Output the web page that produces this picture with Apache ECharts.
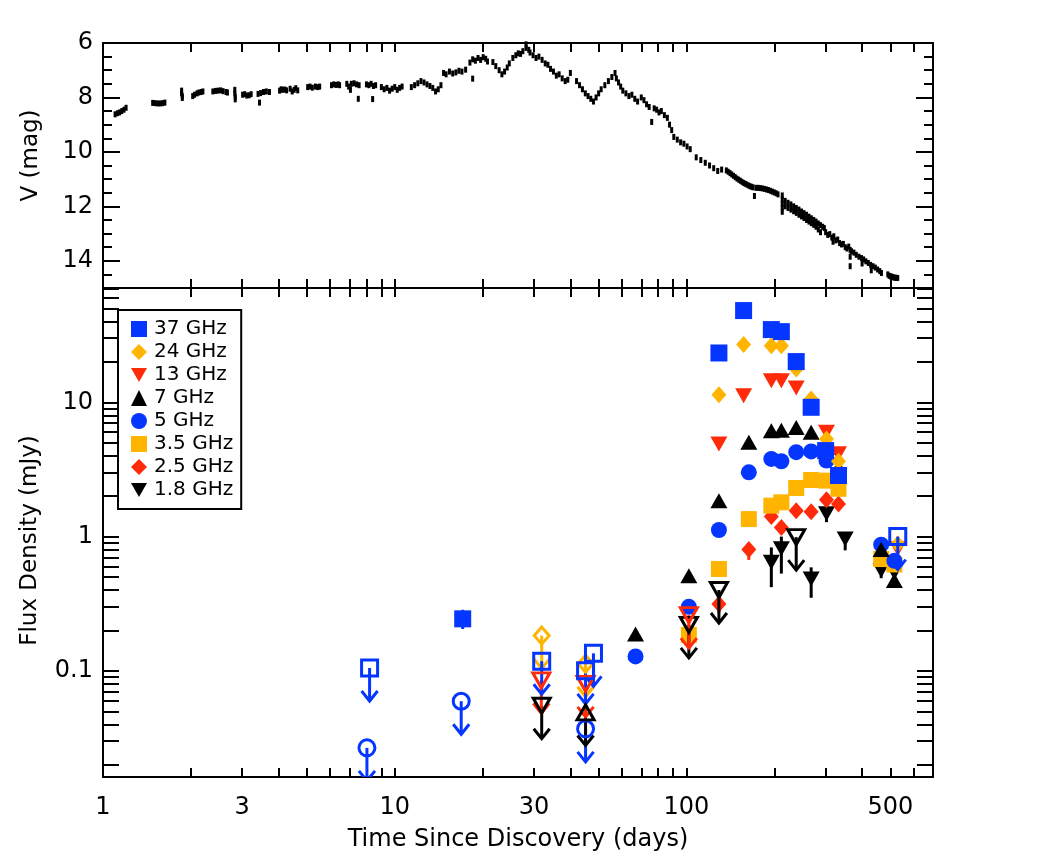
<!DOCTYPE html>
<html><head><meta charset="utf-8">
<script src="https://cdn.jsdelivr.net/npm/echarts@6/dist/echarts.min.js"></script>
<style>html,body{margin:0;padding:0;background:#fff}#c{width:1038px;height:865px}</style>
</head><body><div id="c"></div>
<script>
// ---------- tick labels ----------
const xTickVals = [1,2,3,4,5,6,7,8,9,10,20,30,40,50,60,70,80,90,100,200,300,400,500,600];
const xLabelVals = [1,3,10,30,100,500];
const yTickVals = [0.02,0.03,0.04,0.05,0.06,0.07,0.08,0.09,0.1,0.2,0.3,0.4,0.5,0.6,0.7,0.8,0.9,1,2,3,4,5,6,7,8,9,10,20,30,40,50,60,70];
const yLabelVals = [0.1,1,10];

// ---------- optical light curve (days, V mag) ----------
const lcT = [1.10,1.12,1.14,1.16,1.18,1.20,1.48,1.51,1.54,1.57,1.60,1.63,1.86,1.86,1.87,1.87,2.03,2.06,2.10,2.13,2.17,2.20,
2.38,2.43,2.48,2.53,2.58,2.64,2.67,2.83,2.83,2.84,2.84,3.01,3.06,3.11,3.17,3.22,3.44,3.40,3.47,3.55,3.63,3.72,
4.03,4.08,4.13,4.20,4.26,4.38,4.45,4.52,4.58,4.65,5.03,5.12,5.22,5.35,5.45,5.53,6.07,6.18,6.30,6.40,6.47,
6.85,6.95,7.05,7.10,7.25,7.40,7.55,7.50,8.00,8.15,8.30,8.45,8.60,8.40,9.00,9.20,9.40,9.60,9.80,10.0,10.2,10.4,10.6,
11.4,11.7,12.0,12.3,12.6,12.9,13.2,13.5,13.8,14.1,14.4,14.7,15.0,15.4,15.8,16.2,16.6,17.0,17.5,
18.1,18.5,18.9,19.3,19.7,20.1,20.5,20.8,18.5,21.7,22.2,22.8,23.3,23.8,24.3,24.7,25.4,26.0,26.5,27.0,
27.5,28.2,28.2,28.8,29.1,29.8,30.5,31.2,32.0,32.8,33.5,34.2,35.0,35.8,36.6,37.5,38.4,39.2,40.0,
42.0,43.0,44.0,45.0,46.0,47.0,48.0,49.0,50.0,51.0,52.5,54.0,55.5,56.9,57.5,58.5,59.5,
60.5,62.0,63.5,65.0,66.5,68.0,70.0,71.5,73.0,74.5,76.0,77.5,79.0,80.5,82.0,84.0,86.0,87.5,89.0,
90.5,93.0,95.5,98.0,100.5,103.0,108,112,116,120,124,128,132,
137,139,141,143,145,147,149,151,153,155,157,159,161,163,165,167,169,171,
173,176,179,182,185,188,191,194,197,200,203,206,213,213,213,213,213,
218,223,228,233,238,243,248,253,258,263,268,273,278,283,288,293,297,
218,223,228,233,238,243,248,253,258,263,268,273,278,283,288,
300,305,310,315,318,320,325,330,335,340,345,350,355,360,364,364,364,368,
375,382,390,398,400,405,412,420,428,430,436,444,452,460,466,
490,495,500,505,510,515,520,525,530];
const lcV = [8.62,8.58,8.55,8.50,8.45,8.38,8.20,8.21,8.22,8.22,8.21,8.19,7.75,7.85,7.95,8.02,7.95,7.90,7.85,7.82,7.80,7.78,
7.78,7.76,7.75,7.74,7.77,7.80,7.82,7.72,7.85,7.97,8.07,7.90,7.88,7.93,7.92,7.88,8.19,7.87,7.84,7.80,7.78,7.80,
7.75,7.70,7.72,7.71,7.74,7.68,7.78,7.72,7.66,7.74,7.62,7.60,7.64,7.60,7.62,7.60,7.55,7.52,7.54,7.52,7.55,
7.50,7.60,7.72,7.50,7.48,7.52,7.55,8.05,7.52,7.55,7.50,7.58,7.55,8.06,7.62,7.70,7.65,7.75,7.68,7.62,7.72,7.65,7.60,
7.62,7.55,7.48,7.40,7.45,7.52,7.58,7.65,7.78,7.70,7.55,7.10,7.15,7.05,7.12,7.08,7.02,7.05,6.98,
6.72,6.60,6.65,6.55,6.62,6.52,6.58,6.68,7.31,6.70,6.85,7.00,7.15,7.05,6.90,6.75,6.55,6.45,6.38,6.40,
6.30,6.18,6.05,6.25,6.35,6.45,6.55,6.50,6.62,6.75,6.80,6.95,7.05,7.20,7.15,7.30,7.40,7.35,7.10,
7.40,7.55,7.70,7.85,7.95,8.05,8.15,8.00,7.85,7.70,7.55,7.40,7.25,7.10,7.30,7.45,7.60,
7.75,7.85,7.95,7.90,8.05,8.15,8.00,8.10,8.25,8.35,8.90,8.40,8.45,8.55,8.50,8.65,8.75,9.00,9.20,
9.45,9.55,9.65,9.70,9.80,9.90,10.20,10.30,10.40,10.50,10.60,10.70,10.65,
10.68,10.73,10.78,10.83,10.88,10.93,10.98,11.02,11.06,11.10,11.14,11.17,11.20,11.23,11.26,11.28,11.30,11.62,
11.32,11.32,11.33,11.34,11.36,11.38,11.40,11.43,11.46,11.49,11.52,11.56,11.60,11.75,11.90,12.05,12.20,
11.80,11.87,11.93,12.00,12.06,12.12,12.19,12.25,12.31,12.38,12.44,12.50,12.56,12.63,12.69,12.75,12.80,
12.00,12.06,12.12,12.18,12.24,12.31,12.37,12.43,12.50,12.56,12.62,12.68,12.75,12.85,12.95,
12.95,13.05,13.02,13.15,13.30,13.10,13.25,13.22,13.35,13.40,13.38,13.50,13.55,13.48,13.60,13.85,14.20,13.65,
13.70,13.78,13.85,13.90,14.10,13.95,14.02,14.08,14.15,14.35,14.20,14.25,14.32,14.38,14.45,
14.50,14.55,14.57,14.58,14.60,14.62,14.62,14.63,14.63];

// ---------- radio detections (days, mJy) ----------
const t37 = [17.1,129.2,157,195.4,211.5,237.8,267.6,300,332];
const f37 = [0.244,23.3,48.2,34.8,33.6,20.1,9.18,4.37,2.85];
const t24 = [129.2,157,195.4,211.5,237.8,267.6,302,332,530];
const f24 = [11.4,26.9,26.4,26.4,17.7,10.6,5.34,3.64,0.88];
const t13 = [129.2,157,195.4,211.5,237.8,302,332,530];
const f13 = [4.9,11.2,14.5,14.5,12.8,5.98,4.13,0.81];
const t7 = [66.9,101.9,129.2,163.6,195.4,211.5,237.8,267.6,302,332,465,516];
const f7 = [0.188,0.51,1.85,5.04,6.15,6.2,6.5,5.98,4.6,3.28,0.80,0.47];
const t5 = [66.9,101.9,129.2,163.6,195.4,211.5,237.8,267.6,302,465,516];
const f5 = [0.128,0.30,1.12,3.01,3.79,3.64,4.25,4.31,3.68,0.87,0.66];
const t35 = [101.9,129.2,163.6,195.4,211.5,237.8,267.6,302,332,465,516];
const f35 = [0.185,0.574,1.35,1.70,1.80,2.30,2.64,2.61,2.27,0.68,0.62];
const t25 = [129.2,163.6,195.4,211.5,237.8,267.6,302,332];
const f25 = [0.315,0.80,1.41,1.17,1.56,1.53,1.88,1.75];
const t18 = [195.4,211.5,267.6,302,350,465,516];
const f18 = [0.644,0.81,0.484,1.48,0.96,0.56,0.54];

// ---------- upper limits (days, mJy) ----------
const ul37T = [8.2,31.9,45.1,48.0,530];
const ul37F = [0.105,0.118,0.10,0.135,1.0];
const ul24T = [31.9,45.1];
const ul24F = [0.183,0.113];
const ul13T = [31.8,45.1,101.9];
const ul13F = [0.085,0.080,0.26];
const ul7T = [45.1];
const ul7F = [0.049];
const ul5T = [8.03,16.9,45.1];
const ul5F = [0.0267,0.0594,0.037];
const ul18T = [31.9,101.9,129.2,237.8];
const ul18F = [0.055,0.22,0.40,0.99];

// ---------- error bars (days, low, high mJy) ----------
const err37T = [17.1];  const err37Lo = [0.205]; const err37Hi = [0.285];
const err35T = [101.9]; const err35Lo = [0.165]; const err35Hi = [0.21];
const err25T = [129.2,163.6]; const err25Lo = [0.27,0.67]; const err25Hi = [0.36,0.89];
const err18T = [195.4,211.5,267.6,302,350,465];
const err18Lo = [0.42,0.53,0.35,1.28,0.79,0.49];
const err18Hi = [0.83,1.0,0.59,1.6,1.05,0.63];

// ---------- styling ----------
const FONT = 'DejaVu Sans';
const BLUE = '#0536ff', ORANGE = '#ffb400', RED = '#ff2a0a', BLACK = '#000000';
const DOWN = 'path://M0,0L10,0L5,8.7Z';
const zip = (a, b) => a.map((v, i) => [v, b[i]]);
const zip3 = (a, b, c) => a.map((v, i) => [v, b[i], c[i]]);

function det(name, t, f, color, symbol, size) {
  return { name, type: 'scatter', xAxisIndex: 2, yAxisIndex: 2, data: zip(t, f),
    symbol, symbolSize: size, itemStyle: { color, opacity: 1 }, z: 3 };
}
function ulSym(name, t, f, color, symbol, size) {
  return { name: name + ' limit', type: 'scatter', xAxisIndex: 2, yAxisIndex: 2, data: zip(t, f),
    symbol, symbolSize: size, itemStyle: { color: 'rgba(0,0,0,0)', borderColor: color, borderWidth: 3, opacity: 1 }, z: 4 };
}
function ulArrow(name, t, f, color) {
  return { name: name + ' arrow', type: 'custom', xAxisIndex: 2, yAxisIndex: 2, data: zip(t, f),
    encode: { x: 0, y: 1 }, clip: true, z: 4,
    renderItem: (params, api) => {
      const p = api.coord([api.value(0), api.value(1)]);
      const st = { stroke: color, lineWidth: 3, fill: null };
      return { type: 'group', children: [
        { type: 'line', shape: { x1: p[0], y1: p[1], x2: p[0], y2: p[1] + 33 }, style: st },
        { type: 'polyline', shape: { points: [[p[0] - 8, p[1] + 23], [p[0], p[1] + 33], [p[0] + 8, p[1] + 23]] }, style: st }
      ]};
    } };
}
function errBar(name, t, lo, hi, color) {
  return { name: name + ' err', type: 'custom', xAxisIndex: 2, yAxisIndex: 2, data: zip3(t, lo, hi),
    encode: { x: 0, y: [1, 2] }, clip: true, z: 2,
    renderItem: (params, api) => {
      const a = api.coord([api.value(0), api.value(1)]);
      const b = api.coord([api.value(0), api.value(2)]);
      return { type: 'line', shape: { x1: a[0], y1: a[1], x2: b[0], y2: b[1] }, style: { stroke: color, lineWidth: 3 } };
    } };
}

const tickStyle = { color: '#000', width: 2 };
const lineStyle = { color: '#000', width: 2 };
const labelStyle = { color: '#000', fontFamily: FONT, fontSize: 24 };

function xAx(grid, pos, showLabels, name) {
  return { type: 'log', logBase: 10, gridIndex: grid, position: pos, min: 1, max: 700,
    axisLine: { show: true, onZero: false, lineStyle },
    axisTick: { show: true, inside: true, length: 9, customValues: xTickVals, lineStyle: tickStyle },
    axisLabel: Object.assign({ show: showLabels, customValues: xLabelVals, margin: 19 }, labelStyle),
    splitLine: { show: false }, minorTick: { show: false },
    name: name || '', nameLocation: 'middle', nameGap: 51,
    nameTextStyle: { color: '#000', fontFamily: FONT, fontSize: 24 } };
}
function magAx(pos, showLabels, name) {
  return { type: 'value', gridIndex: 0, position: pos, min: 6, max: 15, interval: 2, inverse: true,
    axisLine: { show: true, onZero: false, lineStyle },
    axisTick: { show: true, inside: true, length: 17, lineStyle: tickStyle },
    minorTick: { show: true, splitNumber: 4, length: 9, lineStyle: tickStyle },
    splitLine: { show: false }, minorSplitLine: { show: false },
    axisLabel: Object.assign({ show: showLabels, margin: 10, formatter: v => (v === 15 ? '' : String(v)) }, labelStyle),
    name: name || '', nameLocation: 'middle', nameGap: 60,
    nameTextStyle: { color: '#000', fontFamily: FONT, fontSize: 23, padding: [0, 0, 0, 20] } };
}
function fluxAx(pos, showLabels, name) {
  return { type: 'log', logBase: 10, gridIndex: 1, position: pos, min: 0.0162, max: 71,
    axisLine: { show: true, onZero: false, lineStyle },
    axisTick: { show: true, inside: true, length: 16, customValues: yTickVals, lineStyle: tickStyle },
    axisLabel: Object.assign({ show: showLabels, customValues: yLabelVals, margin: 10, formatter: v => String(v) }, labelStyle),
    splitLine: { show: false }, minorTick: { show: false },
    name: name || '', nameLocation: 'middle', nameGap: 61,
    nameTextStyle: { color: '#000', fontFamily: FONT, fontSize: 23, padding: [0, 16, 0, 0] } };
}

const series = [
  { name: 'V', type: 'scatter', xAxisIndex: 0, yAxisIndex: 0, data: zip(lcT, lcV),
    symbol: 'rect', symbolSize: [3, 6], itemStyle: { color: '#000', opacity: 1 } },
  errBar('37 GHz', err37T, err37Lo, err37Hi, BLUE),
  errBar('3.5 GHz', err35T, err35Lo, err35Hi, ORANGE),
  errBar('2.5 GHz', err25T, err25Lo, err25Hi, RED),
  errBar('1.8 GHz', err18T, err18Lo, err18Hi, BLACK),
  det('1.8 GHz', t18, f18, BLACK, DOWN, [17, 15]),
  det('2.5 GHz', t25, f25, RED, 'diamond', [15, 17]),
  det('3.5 GHz', t35, f35, ORANGE, 'rect', 16),
  det('5 GHz', t5, f5, BLUE, 'circle', 16),
  det('7 GHz', t7, f7, BLACK, 'triangle', [17, 15]),
  det('13 GHz', t13, f13, RED, DOWN, [17, 15]),
  det('24 GHz', t24, f24, ORANGE, 'diamond', [15, 17]),
  det('37 GHz', t37, f37, BLUE, 'rect', 17),
  ulSym('1.8 GHz', ul18T, ul18F, BLACK, DOWN, [17, 15]), ulArrow('1.8 GHz', ul18T, ul18F, BLACK),
  ulSym('5 GHz', ul5T, ul5F, BLUE, 'circle', 16), ulArrow('5 GHz', ul5T, ul5F, BLUE),
  ulSym('7 GHz', ul7T, ul7F, BLACK, 'triangle', [17, 15]), ulArrow('7 GHz', ul7T, ul7F, BLACK),
  ulSym('13 GHz', ul13T, ul13F, RED, DOWN, [17, 15]), ulArrow('13 GHz', ul13T, ul13F, RED),
  ulSym('24 GHz', ul24T, ul24F, ORANGE, 'diamond', [15, 17]), ulArrow('24 GHz', ul24T, ul24F, ORANGE),
  ulSym('37 GHz', ul37T, ul37F, BLUE, 'rect', 16), ulArrow('37 GHz', ul37T, ul37F, BLUE)
];

const chart = echarts.init(document.getElementById('c'), null, { renderer: 'canvas' });
chart.setOption({
  animation: false,
  backgroundColor: '#fff',
  grid: [
    { left: 103, right: 105, top: 43, height: 245 },
    { left: 103, right: 105, top: 288, bottom: 88 }
  ],
  xAxis: [ xAx(0, 'bottom', false), xAx(0, 'top', false), xAx(1, 'bottom', true, 'Time Since Discovery (days)'), xAx(1, 'top', false) ],
  yAxis: [ magAx('left', true, 'V (mag)'), magAx('right', false), fluxAx('left', true, 'Flux Density (mJy)'), fluxAx('right', false) ],
  legend: {
    data: ['37 GHz', '24 GHz', '13 GHz', '7 GHz', '5 GHz', '3.5 GHz', '2.5 GHz', '1.8 GHz'],
    orient: 'vertical', left: 118, top: 310, itemWidth: 16, itemHeight: 16, itemGap: 3,
    padding: [9, 8, 9, 13], borderColor: '#000', borderWidth: 2, backgroundColor: '#fff',
    selectedMode: false,
    textStyle: { color: '#000', fontFamily: FONT, fontSize: 20, padding: [0, 0, 0, 2] }
  },
  series
});
</script></body></html>
